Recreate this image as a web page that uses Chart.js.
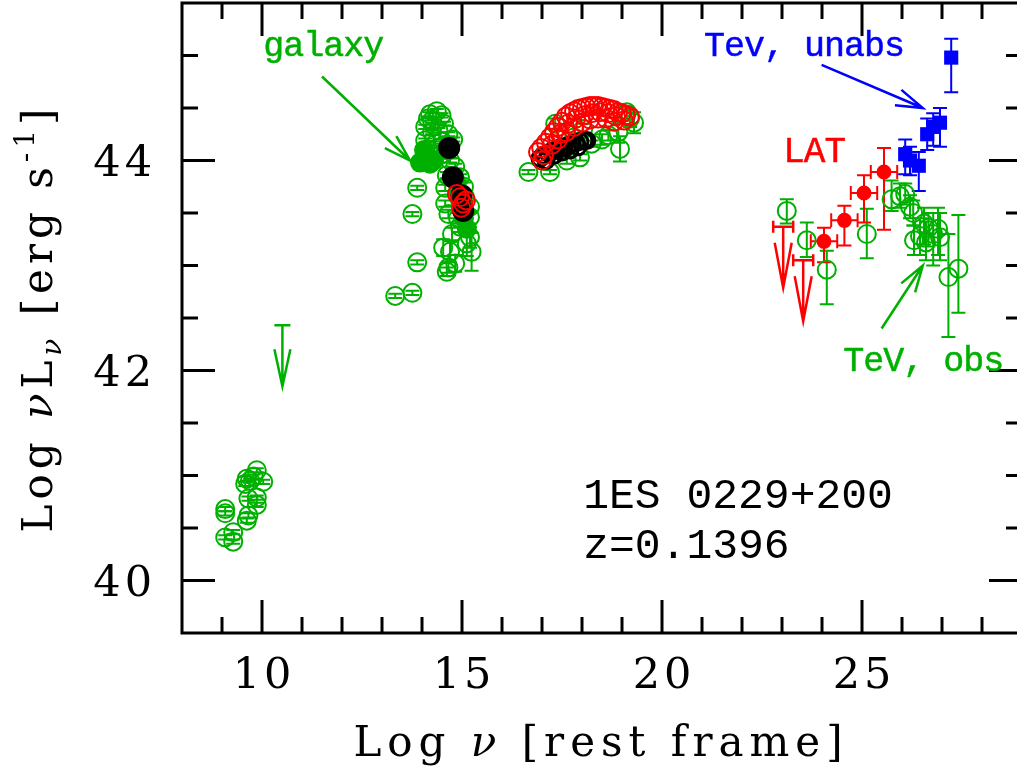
<!DOCTYPE html>
<html lang="en">
<head>
<meta charset="UTF-8">
<title>1ES 0229+200 SED</title>
<script src="https://cdn.jsdelivr.net/npm/chart.js"></script>
<style>
  body { margin: 0; background: #fff; }
  #wrap { width: 1017px; height: 776px; }
</style>
</head>
<body>
<div id="wrap"><canvas id="sed" width="1017" height="776"></canvas></div>
<script>
// ---- data: [log nu, log nuLnu, error] ----
const xTicksMajor = [10, 15, 20, 25];
const yTicksMajor = [40, 42, 44];

const greenRadio = [
  [9.08, 40.68, 0.02], [9.08, 40.64, 0.02], [9.08, 40.41, 0.02], [9.28, 40.37, 0.02],
  [9.28, 40.46, 0.02], [9.62, 40.57, 0.02], [9.66, 40.62, 0.02], [9.66, 40.78, 0.02],
  [9.87, 40.72, 0.02], [9.87, 40.79, 0.02], [9.62, 40.97, 0.02], [9.58, 40.92, 0.02],
  [9.79, 40.99, 0.02], [9.87, 41.05, 0.02], [10.03, 40.94, 0.02], [9.70, 40.95, 0.02]
];
const greenOptical = [
  [13.33, 42.71, 0.02], [13.76, 42.74, 0.02], [13.88, 43.03, 0.02], [13.76, 43.49, 0.02],
  [13.88, 43.74, 0.02], [14.20, 44.44, 0.02], [14.49, 44.43, 0.02], [14.37, 44.47, 0.02],
  [14.08, 44.32, 0.02], [14.41, 44.29, 0.02], [14.66, 44.25, 0.02], [14.08, 44.19, 0.02],
  [14.33, 44.16, 0.02], [14.12, 44.06, 0.02], [14.78, 44.20, 0.02], [14.55, 44.35, 0.02],
  [14.25, 44.38, 0.02], [14.60, 44.10, 0.02], [14.45, 44.05, 0.02], [14.25, 44.27, 0.02],
  [14.70, 44.00, 0.02], [14.83, 43.94, 0.03], [14.95, 43.84, 0.03], [14.62, 43.86, 0.03],
  [14.58, 43.74, 0.03], [15.08, 43.65, 0.04], [14.58, 43.59, 0.03], [14.66, 43.49, 0.04],
  [15.20, 43.56, 0.06], [15.20, 43.46, 0.06], [14.95, 43.37, 0.05], [15.20, 43.27, 0.10],
  [15.12, 43.21, 0.12], [14.53, 43.17, 0.08], [14.70, 43.13, 0.10], [15.24, 43.13, 0.18],
  [14.66, 42.98, 0.05], [14.83, 43.02, 0.08], [14.62, 42.94, 0.04], [14.90, 43.45, 0.05],
  [15.05, 43.75, 0.04], [14.75, 43.30, 0.06], [14.15, 44.40, 0.02], [14.50, 44.18, 0.02]
];
const greenXray = [
  [16.66, 43.89, 0.02], [17.20, 43.89, 0.02], [17.62, 44.00, 0.03], [17.95, 44.03, 0.03],
  [18.24, 44.16, 0.03], [18.03, 44.30, 0.05], [17.80, 44.22, 0.04], [18.66, 44.24, 0.05],
  [18.95, 44.11, 0.12], [18.91, 44.27, 0.10], [19.20, 44.40, 0.08], [19.12, 44.46, 0.06],
  [17.33, 44.35, 0.05], [17.45, 44.10, 0.03], [18.50, 44.20, 0.05], [19.30, 44.36, 0.10]
];
const greenFilled = [
  [13.95, 43.98], [14.08, 44.03], [14.20, 43.97], [14.05, 44.10], [14.30, 44.00],
  [14.85, 43.80], [14.95, 43.62], [15.05, 43.45], [15.12, 43.35], [14.90, 43.70]
];
// TeV observed: [log nu, log nuLnu, low, high]
const greenTeV = [
  [23.12, 43.52, 43.40, 43.63], [23.62, 43.24, 43.08, 43.41], [24.12, 42.96, 42.63, 43.14],
  [25.12, 43.30, 43.07, 43.54], [25.74, 43.63, 43.52, 43.81], [25.95, 43.66, 43.55, 43.78],
  [26.08, 43.68, 43.58, 43.78], [26.20, 43.56, 43.45, 43.67], [26.28, 43.50, 43.38, 43.62],
  [26.30, 43.24, 43.10, 43.38], [26.45, 43.28, 43.10, 43.45], [26.55, 43.40, 43.20, 43.55],
  [26.66, 43.36, 43.18, 43.50], [26.78, 43.30, 43.00, 43.50], [26.95, 43.27, 43.05, 43.50],
  [26.90, 43.35, 43.10, 43.55], [27.16, 42.89, 42.32, 43.30], [27.41, 42.97, 42.55, 43.48],
  [26.60, 43.22, 43.05, 43.42]
];
const greenLimits = [[10.51, 42.43, 0]];
const blackOptical = [[14.68, 44.12], [14.77, 43.84], [14.99, 43.67], [15.03, 43.52]];
const blackXray = [
  [16.95, 44.02], [17.03, 44.05], [17.15, 44.07], [17.25, 44.09], [17.35, 44.10],
  [17.45, 44.12], [17.55, 44.13], [17.65, 44.14], [17.75, 44.16], [17.85, 44.17],
  [17.95, 44.18], [18.05, 44.19], [18.12, 44.19], [17.10, 44.00], [17.30, 44.05],
  [17.50, 44.08], [17.70, 44.10], [17.90, 44.13]
];
const redOptical = [[14.95, 43.65], [15.03, 43.59], [14.87, 43.68], [15.10, 43.62], [14.98, 43.55]];
const redXray = [
  [16.90, 44.08], [16.98, 44.12], [17.05, 44.05], [17.10, 44.17], [17.20, 44.22],
  [17.30, 44.27], [17.40, 44.32], [17.50, 44.37], [17.60, 44.42], [17.70, 44.45],
  [17.80, 44.47], [17.90, 44.49], [18.00, 44.50], [18.10, 44.51], [18.20, 44.52],
  [18.30, 44.52], [18.40, 44.52], [18.50, 44.51], [18.60, 44.50], [18.70, 44.49],
  [18.80, 44.48], [18.90, 44.46], [19.00, 44.45], [19.10, 44.43], [19.20, 44.42],
  [17.25, 44.15], [17.45, 44.25], [17.65, 44.35], [17.85, 44.40], [18.05, 44.43],
  [18.25, 44.45], [18.45, 44.46], [18.65, 44.45], [18.85, 44.42], [19.05, 44.38], [17.00, 44.00],
  [17.40, 44.20], [17.60, 44.27], [17.80, 44.32], [18.00, 44.36], [18.20, 44.39],
  [18.40, 44.40], [18.60, 44.40], [18.80, 44.37]
];
// LAT: [log nu, log nuLnu, x half width, low, high]
const latPoints = [
  [24.05, 43.23, 0.33, 43.03, 43.36], [24.56, 43.43, 0.33, 43.19, 43.57],
  [25.05, 43.69, 0.33, 43.41, 43.86], [25.55, 43.89, 0.33, 43.34, 44.12]
];
const latLimits = [[23.03, 43.37, 0.25], [23.53, 43.05, 0.25]];
// TeV unabsorbed: [log nu, log nuLnu, low, high]
const tevUnabs = [
  [26.08, 44.06, 43.87, 44.20], [26.20, 44.00, 43.86, 44.13], [26.42, 43.95, 43.71, 44.08],
  [26.63, 44.25, 44.10, 44.40], [26.78, 44.32, 44.14, 44.45], [26.95, 44.36, 44.13, 44.50],
  [27.23, 44.98, 44.65, 45.16]
];

const GREEN = '#00b000', RED = '#ff0000', BLUE = '#0000ff', BLACK = '#000000';
const SERIF = '"DejaVu Serif", serif';
const MONO = '"Liberation Mono", monospace';

function pts(arr) { return arr.map(p => ({ x: p[0], y: p[1] })); }
function symErr(arr) { return arr.map(p => [p[1] - p[2], p[1] + p[2]]); }
function asymErr(arr, i) { return arr.map(p => [p[i], p[i + 1]]); }

function circles(arr, color, r, filled, order, errY) {
  return {
    data: pts(arr), errY: errY, errColor: color, order: order, clip: false,
    pointStyle: 'circle', pointRadius: r, borderWidth: 2,
    borderColor: color, backgroundColor: filled ? color : 'rgba(0,0,0,0)'
  };
}

const datasets = [
  circles(greenRadio, GREEN, 9, false, 5, symErr(greenRadio)),
  circles(greenOptical, GREEN, 9, false, 5, symErr(greenOptical)),
  circles(greenXray, GREEN, 9, false, 5, symErr(greenXray)),
  circles(greenTeV, GREEN, 9, false, 5, asymErr(greenTeV, 2)),
  circles(greenFilled, GREEN, 9, true, 4),
  circles(blackOptical, BLACK, 10, true, 3),
  Object.assign(circles(blackXray, BLACK, 8, false, 3), { borderWidth: 3 }),
  circles(redOptical, RED, 9, false, 2),
  circles(redXray, RED, 9, false, 2),
  Object.assign(circles(latPoints, RED, 6.5, true, 1, asymErr(latPoints, 3)),
    { errX: latPoints.map(p => [p[0] - p[2], p[0] + p[2]]) }),
  {
    data: pts(tevUnabs), errY: asymErr(tevUnabs, 2), errColor: BLUE, order: 0, clip: false,
    pointStyle: 'rect', pointRadius: 10, borderWidth: 0, borderColor: BLUE, backgroundColor: BLUE
  },
  { data: pts(latLimits), limits: latLimits, errColor: RED, head: [8.5, 45], pointRadius: 0, order: 1 },
  { data: pts(greenLimits), limits: greenLimits, errColor: GREEN, head: [8, 37], pointRadius: 0, order: 5 }
];

const CAP = 7;

const errorBars = {
  id: 'errorBars',
  beforeDatasetsDraw(chart) {
    const { ctx, scales: { x, y } } = chart;
    ctx.save();
    ctx.lineWidth = 2;
    chart.data.datasets.forEach(ds => {
      ctx.strokeStyle = ds.errColor;
      if (ds.errY) {
        ds.data.forEach((d, i) => {
          const px = x.getPixelForValue(d.x);
          const y0 = y.getPixelForValue(ds.errY[i][0]);
          const y1 = y.getPixelForValue(ds.errY[i][1]);
          ctx.beginPath();
          ctx.moveTo(px, y0); ctx.lineTo(px, y1);
          ctx.moveTo(px - CAP, y0); ctx.lineTo(px + CAP, y0);
          ctx.moveTo(px - CAP, y1); ctx.lineTo(px + CAP, y1);
          ctx.stroke();
        });
      }
      if (ds.errX) {
        ds.data.forEach((d, i) => {
          const py = y.getPixelForValue(d.y);
          const x0 = x.getPixelForValue(ds.errX[i][0]);
          const x1 = x.getPixelForValue(ds.errX[i][1]);
          ctx.beginPath();
          ctx.moveTo(x0, py); ctx.lineTo(x1, py);
          ctx.moveTo(x0, py - CAP); ctx.lineTo(x0, py + CAP);
          ctx.moveTo(x1, py - CAP); ctx.lineTo(x1, py + CAP);
          ctx.stroke();
        });
      }
      if (ds.limits) {
        ds.limits.forEach(l => {
          const px = x.getPixelForValue(l[0]);
          const py = y.getPixelForValue(l[1]);
          const tip = py + 61;
          ctx.lineWidth = 2.5;
          ctx.beginPath();
          if (l[2] > 0) {
            const x0 = x.getPixelForValue(l[0] - l[2]);
            const x1 = x.getPixelForValue(l[0] + l[2]);
            ctx.moveTo(x0, py); ctx.lineTo(x1, py);
            ctx.moveTo(x0, py - 6); ctx.lineTo(x0, py + 6);
            ctx.moveTo(x1, py - 6); ctx.lineTo(x1, py + 6);
          } else {
            ctx.moveTo(px - 8, py); ctx.lineTo(px + 8, py);
          }
          ctx.moveTo(px, py); ctx.lineTo(px, tip);
          ctx.moveTo(px - ds.head[0], tip - ds.head[1]); ctx.lineTo(px, tip);
          ctx.lineTo(px + ds.head[0], tip - ds.head[1]);
          ctx.stroke();
          ctx.lineWidth = 2;
        });
      }
    });
    ctx.restore();
  }
};

function text(ctx, s, x, y, font, color, align, spacing, weight) {
  ctx.save();
  ctx.font = font;
  ctx.fillStyle = color;
  ctx.strokeStyle = color;
  ctx.textAlign = align;
  ctx.textBaseline = 'alphabetic';
  if ('letterSpacing' in ctx) ctx.letterSpacing = (spacing || 0) + 'px';
  ctx.fillText(s, x, y);
  if (weight) { ctx.lineWidth = weight; ctx.strokeText(s, x, y); }
  ctx.restore();
}

function arrow(ctx, x, y, a, b, color) {
  const x0 = x.getPixelForValue(a[0]), y0 = y.getPixelForValue(a[1]);
  const x1 = x.getPixelForValue(b[0]), y1 = y.getPixelForValue(b[1]);
  const ang = Math.atan2(y1 - y0, x1 - x0), len = 28, spread = 0.3;
  ctx.save();
  ctx.strokeStyle = color;
  ctx.lineWidth = 2.5;
  ctx.beginPath();
  ctx.moveTo(x0, y0); ctx.lineTo(x1, y1);
  ctx.moveTo(x1 - len * Math.cos(ang - spread), y1 - len * Math.sin(ang - spread));
  ctx.lineTo(x1, y1);
  ctx.lineTo(x1 - len * Math.cos(ang + spread), y1 - len * Math.sin(ang + spread));
  ctx.stroke();
  ctx.restore();
}

const frame = {
  id: 'frame',
  afterDraw(chart) {
    const { ctx, chartArea: a, scales: { x, y } } = chart;
    const right = x.getPixelForValue(29);
    ctx.save();
    ctx.strokeStyle = BLACK;
    ctx.lineWidth = 3;
    ctx.beginPath();
    ctx.moveTo(right, a.top); ctx.lineTo(a.left, a.top);
    ctx.lineTo(a.left, a.bottom); ctx.lineTo(right, a.bottom);
    ctx.stroke();
    ctx.beginPath();
    for (let v = 9; v <= 28; v++) {
      const px = x.getPixelForValue(v);
      const len = xTicksMajor.includes(v) ? 33 : 16;
      ctx.moveTo(px, a.top); ctx.lineTo(px, a.top + len);
      ctx.moveTo(px, a.bottom); ctx.lineTo(px, a.bottom - len);
    }
    for (let v = 40; v <= 45; v += 0.5) {
      const py = y.getPixelForValue(v);
      const len = yTicksMajor.includes(v) ? 33 : 16;
      ctx.moveTo(a.left, py); ctx.lineTo(a.left + len, py);
      ctx.moveTo(right, py); ctx.lineTo(right - len, py);
    }
    ctx.stroke();
    ctx.restore();

    const tickFont = '43px ' + SERIF;
    xTicksMajor.forEach(v => text(ctx, String(v), x.getPixelForValue(v) + 2, 688, tickFont, BLACK, 'center', 4));
    yTicksMajor.forEach(v => text(ctx, String(v), 156, y.getPixelForValue(v) + 15, tickFont, BLACK, 'right', 4));

    // axis titles
    const big = '42px ' + SERIF, bigIt = 'italic 42px ' + SERIF, small = '28px ' + SERIF, smallIt = 'italic 28px ' + SERIF;
    drawRun(ctx, [['Log ', big, 0], ['\u03bd', bigIt, 0], [' [rest frame]', big, 0]], 601, 756, 0, 6);
    drawRun(ctx, [['Log ', big, 0], ['\u03bd', bigIt, 0], ['L', big, 0], ['\u03bd', smallIt, 9],
      [' [erg s', big, 0], ['-1', small, -18], [']', big, 0]], 318, 0, -Math.PI / 2, 5, 52);

    // annotations
    const labFont = '35px ' + MONO;
    const at = (v, w) => [x.getPixelForValue(v), y.getPixelForValue(w)];
    let p = at(10.03, 45.0); text(ctx, 'galaxy', p[0], p[1], labFont, GREEN, 'left', -1, 0.5);
    p = at(21.05, 45.0); text(ctx, 'Tev, unabs', p[0], p[1], labFont, BLUE, 'left', -1, 0.5);
    p = at(23.03, 43.99); text(ctx, 'LAT', p[0], p[1], '36px ' + MONO, RED, 'left', -1, 0.5);
    p = at(24.53, 42.0); text(ctx, 'TeV, obs', p[0], p[1], labFont, GREEN, 'left', -1, 0.5);
    p = at(18.03, 40.69); text(ctx, '1ES 0229+200', p[0], p[1], '43px ' + MONO, BLACK, 'left', 0, 0);
    p = at(18.03, 40.21); text(ctx, 'z=0.1396', p[0], p[1], '43px ' + MONO, BLACK, 'left', 0, 0);
    arrow(ctx, x, y, [11.5, 44.80], [13.7, 44.0], GREEN);
    arrow(ctx, x, y, [23.99, 44.91], [26.52, 44.50], BLUE);
    arrow(ctx, x, y, [25.49, 42.40], [26.52, 43.0], GREEN);
  }
};

// draws a run of text pieces centred on (cx, cy); rot rotates about (px, cx)
function drawRun(ctx, parts, cx, cy, rot, spacing, px) {
  ctx.save();
  if (rot) { ctx.translate(px, cx); ctx.rotate(rot); cx = 0; cy = 0; }
  if ('letterSpacing' in ctx) ctx.letterSpacing = spacing + 'px';
  ctx.fillStyle = BLACK;
  ctx.textBaseline = 'alphabetic';
  ctx.textAlign = 'left';
  let total = 0;
  parts.forEach(pt => { ctx.font = pt[1]; total += ctx.measureText(pt[0]).width; });
  let pos = cx - total / 2;
  parts.forEach(pt => {
    ctx.font = pt[1];
    ctx.fillText(pt[0], pos, cy + pt[2]);
    pos += ctx.measureText(pt[0]).width;
  });
  ctx.restore();
}

new Chart(document.getElementById('sed'), {
  type: 'scatter',
  data: { datasets: datasets },
  options: {
    responsive: false,
    animation: false,
    events: [],
    layout: { autoPadding: false, padding: { left: 182, top: 3, right: 0, bottom: 143 } },
    scales: {
      x: { type: 'linear', min: 8, max: 28.875, display: false },
      y: { type: 'linear', min: 39.5, max: 45.5, display: false }
    },
    plugins: { legend: { display: false }, tooltip: { enabled: false } }
  },
  plugins: [errorBars, frame]
});
</script>
</body>
</html>
